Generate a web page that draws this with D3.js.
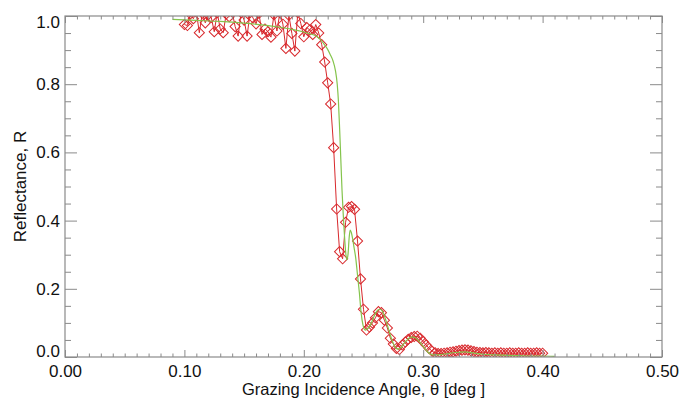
<!DOCTYPE html>
<html>
<head>
<meta charset="utf-8">
<script src="https://cdn.jsdelivr.net/npm/d3@7"></script>
<style>
  body { margin: 0; background: #fff; }
  svg { display: block; font-family: "Liberation Sans", Arial, Helvetica, sans-serif; }
</style>
</head>
<body>
<div id="container"></div>
<script>
/* CONSTANTS AND GLOBALS */
const width = 679;
const height = 399;

const margin = {
  top: 16,
  right: 17,
  bottom: 42,
  left: 65
}

const axisColor = "#8a8a8a";
const dataColor = "#d8282c";
const modelColor = "#84c44c";

/* DATA */
// measured reflectance (diamonds)
const dataAngle = [
  0.1000, 0.1025, 0.1050, 0.1075, 0.1100, 0.1125, 0.1150, 0.1175, 0.1200, 0.1225,
  0.1250, 0.1275, 0.1300, 0.1325, 0.1350, 0.1375, 0.1400, 0.1425, 0.1450, 0.1475,
  0.1500, 0.1525, 0.1550, 0.1575, 0.1600, 0.1625, 0.1650, 0.1675, 0.1700, 0.1725,
  0.1750, 0.1775, 0.1800, 0.1825, 0.1850, 0.1875, 0.1900, 0.1925, 0.1950, 0.1975,
  0.2000, 0.2025, 0.2050, 0.2075, 0.2100, 0.2125, 0.2150, 0.2175, 0.2200, 0.2225,
  0.2250, 0.2275, 0.2300, 0.2325, 0.2350, 0.2375, 0.2400, 0.2425, 0.2450, 0.2475,
  0.2500, 0.2525, 0.2550, 0.2575, 0.2600, 0.2625, 0.2650, 0.2675, 0.2700, 0.2725,
  0.2750, 0.2775, 0.2800, 0.2825, 0.2850, 0.2875, 0.2900, 0.2925, 0.2950, 0.2975,
  0.3000, 0.3025, 0.3050, 0.3075, 0.3100, 0.3125, 0.3150, 0.3175, 0.3200, 0.3225,
  0.3250, 0.3275, 0.3300, 0.3325, 0.3350, 0.3375, 0.3400, 0.3425, 0.3450, 0.3475,
  0.3500, 0.3525, 0.3550, 0.3575, 0.3600, 0.3625, 0.3650, 0.3675, 0.3700, 0.3725,
  0.3750, 0.3775, 0.3800, 0.3825, 0.3850, 0.3875, 0.3900, 0.3925, 0.3950, 0.3975,
  0.4000
];
const dataReflectance = [
  0.975, 0.972, 1.006, 0.992, 1.012, 0.951, 1.008, 0.980, 1.004, 0.996,
  0.954, 1.010, 0.962, 0.951, 1.006, 0.998, 1.012, 0.969, 0.941, 1.010,
  0.988, 0.941, 1.010, 0.994, 0.977, 1.008, 0.946, 0.962, 0.954, 0.938,
  1.004, 0.956, 1.010, 0.976, 0.905, 1.002, 0.949, 0.897, 1.010, 0.978,
  0.939, 0.966, 0.959, 0.946, 0.975, 0.950, 0.916, 0.865, 0.804, 0.742,
  0.614, 0.434, 0.309, 0.288, 0.395, 0.439, 0.441, 0.433, 0.340, 0.229,
  0.140, 0.079, 0.088, 0.100, 0.115, 0.133, 0.130, 0.108, 0.085, 0.055,
  0.038, 0.025, 0.022, 0.035, 0.044, 0.052, 0.057, 0.060, 0.061, 0.055,
  0.045, 0.035, 0.025, 0.017, 0.012, 0.010, 0.010, 0.011, 0.012, 0.014,
  0.015, 0.017, 0.019, 0.020, 0.021, 0.020, 0.018, 0.016, 0.014, 0.013,
  0.012, 0.013, 0.012, 0.011, 0.012, 0.011, 0.012, 0.011, 0.011, 0.012,
  0.011, 0.011, 0.012, 0.011, 0.011, 0.012, 0.011, 0.011, 0.012, 0.011,
  0.011
];

// model curve (green line)
const modelAngle = [
  0.0900, 0.1100, 0.1300, 0.1500, 0.1700, 0.1800, 0.1900, 0.2000, 0.2050, 0.2100,
  0.2135, 0.2165, 0.2195, 0.2220, 0.2245, 0.2265, 0.2280, 0.2290, 0.2300, 0.2310,
  0.2320, 0.2330, 0.2340, 0.2350, 0.2360, 0.2370, 0.2380, 0.2388, 0.2398, 0.2410,
  0.2420, 0.2435, 0.2450, 0.2465, 0.2480, 0.2495, 0.2515, 0.2535, 0.2560, 0.2580,
  0.2600, 0.2620, 0.2640, 0.2660, 0.2680, 0.2700, 0.2720, 0.2740, 0.2760, 0.2780,
  0.2800, 0.2820, 0.2840, 0.2860, 0.2880, 0.2900, 0.2920, 0.2940, 0.2960, 0.2980,
  0.3000, 0.3020, 0.3040, 0.3060, 0.3080, 0.3100, 0.3150, 0.3200, 0.3300, 0.3350,
  0.3400, 0.3500, 0.3600, 0.3700, 0.3800, 0.3900, 0.4000, 0.4100
];
const modelReflectance = [
  0.990, 0.987, 0.984, 0.979, 0.972, 0.967, 0.961, 0.953, 0.948, 0.942,
  0.932, 0.920, 0.905, 0.888, 0.868, 0.840, 0.800, 0.750, 0.670, 0.580,
  0.490, 0.420, 0.360, 0.310, 0.285, 0.300, 0.350, 0.372, 0.365, 0.345,
  0.323, 0.290, 0.240, 0.190, 0.130, 0.095, 0.079, 0.084, 0.095, 0.112,
  0.128, 0.138, 0.140, 0.133, 0.115, 0.093, 0.070, 0.048, 0.032, 0.024,
  0.024, 0.030, 0.040, 0.048, 0.055, 0.058, 0.058, 0.055, 0.048, 0.040,
  0.031, 0.022, 0.014, 0.009, 0.006, 0.006, 0.007, 0.010, 0.014, 0.015,
  0.013, 0.008, 0.006, 0.005, 0.004, 0.003, 0.003, 0.002
];

// tick labels
const xMajorTicks = [0, 0.1, 0.2, 0.3, 0.4, 0.5];
const xMinorTicks = d3.range(0, 51).map(d => d / 100);
const yMajorTicks = [0, 0.2, 0.4, 0.6, 0.8, 1.0];
const yMinorTicks = d3.range(0, 21).map(d => d / 20);

const measured = dataAngle.map((a, i) => ({ angle: a, r: dataReflectance[i] }));
const model = modelAngle.map((a, i) => ({ angle: a, r: modelReflectance[i] }));

/* SCALES */
const xScale = d3.scaleLinear()
  .domain([0, 0.5])
  .range([margin.left, width - margin.right])

const yScale = d3.scaleLinear()
  .domain([0, 1])
  .range([height - margin.bottom, margin.top])

/* CREATE SVG ELEMENT */
const svg = d3.select("#container")
  .append("svg")
  .attr("width", width)
  .attr("height", height)

svg.append("clipPath")
  .attr("id", "plotClip")
  .append("rect")
  .attr("x", margin.left)
  .attr("y", margin.top)
  .attr("width", width - margin.left - margin.right)
  .attr("height", height - margin.top - margin.bottom)

/* DRAW LINES */
const plot = svg.append("g").attr("clip-path", "url(#plotClip)")

const lineGen = d3.line()
  .x(d => xScale(d.angle))
  .y(d => yScale(d.r))

plot.append("path")
  .datum(measured)
  .attr("fill", "none")
  .attr("stroke", dataColor)
  .attr("stroke-width", 1)
  .attr("d", lineGen)

const diamond = d3.symbol(d3.symbolSquare, 52)

plot.selectAll(".pt")
  .data(measured)
  .join("path")
  .attr("class", "pt")
  .attr("d", diamond)
  .attr("transform", d => `translate(${xScale(d.angle)},${yScale(d.r)}) rotate(45)`)
  .attr("fill", "none")
  .attr("stroke", dataColor)
  .attr("stroke-width", 1)

plot.append("path")
  .datum(model)
  .attr("fill", "none")
  .attr("stroke", modelColor)
  .attr("stroke-width", 1.2)
  .attr("d", lineGen.curve(d3.curveMonotoneX))

/* BUILD AND CALL AXES */
const bottom = height - margin.bottom;
const right = width - margin.right;

function styleAxis(g) {
  g.select(".domain").remove();
  g.selectAll(".tick line").attr("stroke", axisColor);
  g.selectAll(".tick text")
    .attr("fill", "#111")
    .style("font-size", "17px");
}

const minorX = xMinorTicks.filter(v => !xMajorTicks.some(m => Math.abs(m - v) < 1e-9));
const minorY = yMinorTicks.filter(v => !yMajorTicks.some(m => Math.abs(m - v) < 1e-9));

// bottom
svg.append("g").attr("transform", `translate(0,${bottom})`)
  .call(d3.axisBottom(xScale).tickValues(minorX).tickFormat("").tickSizeInner(-3.5).tickSizeOuter(0))
  .call(styleAxis)
svg.append("g").attr("class", "xAxis").attr("transform", `translate(0,${bottom})`)
  .call(d3.axisBottom(xScale).tickValues(xMajorTicks).tickFormat(d3.format(".2f")).tickSizeInner(-7).tickSizeOuter(0).tickPadding(7.5))
  .call(styleAxis)

// top
svg.append("g").attr("transform", `translate(0,${margin.top})`)
  .call(d3.axisTop(xScale).tickValues(minorX).tickFormat("").tickSizeInner(-3.5).tickSizeOuter(0))
  .call(styleAxis)
svg.append("g").attr("transform", `translate(0,${margin.top})`)
  .call(d3.axisTop(xScale).tickValues(xMajorTicks).tickFormat("").tickSizeInner(-7).tickSizeOuter(0))
  .call(styleAxis)

// left
svg.append("g").attr("transform", `translate(${margin.left},0)`)
  .call(d3.axisLeft(yScale).tickValues(minorY).tickFormat("").tickSizeInner(-6).tickSizeOuter(0))
  .call(styleAxis)
const yAxisGroup = svg.append("g").attr("class", "yAxis").attr("transform", `translate(${margin.left},0)`)
  .call(d3.axisLeft(yScale).tickValues(yMajorTicks).tickFormat(d3.format(".1f")).tickSizeInner(-12).tickSizeOuter(0).tickPadding(5))
  .call(styleAxis)

// end labels are kept inside the axis span, like the original
yAxisGroup.selectAll(".tick text")
  .attr("dy", d => d === 0 ? "-0.02em" : d === 1 ? "0.7em" : "0.32em")

// right
svg.append("g").attr("transform", `translate(${right},0)`)
  .call(d3.axisRight(yScale).tickValues(minorY).tickFormat("").tickSizeInner(-6).tickSizeOuter(0))
  .call(styleAxis)
svg.append("g").attr("transform", `translate(${right},0)`)
  .call(d3.axisRight(yScale).tickValues(yMajorTicks).tickFormat("").tickSizeInner(-12).tickSizeOuter(0))
  .call(styleAxis)

// frame
svg.append("rect")
  .attr("x", margin.left)
  .attr("y", margin.top)
  .attr("width", right - margin.left)
  .attr("height", bottom - margin.top)
  .attr("fill", "none")
  .attr("stroke", axisColor)
  .attr("stroke-width", 1.2)

/* AXIS TITLES */
svg.append("text")
  .attr("class", "xLabel")
  .attr("x", (margin.left + right) / 2)
  .attr("y", 395.3)
  .attr("text-anchor", "middle")
  .style("font-size", "16.5px")
  .attr("fill", "#111")
  .text("Grazing Incidence Angle, θ [deg ]")

svg.append("text")
  .attr("class", "yLabel")
  .attr("transform", `translate(${26}, ${(margin.top + bottom) / 2}) rotate(-90)`)
  .attr("text-anchor", "middle")
  .style("font-size", "17px")
  .attr("fill", "#111")
  .text("Reflectance, R")
</script>
</body>
</html>
